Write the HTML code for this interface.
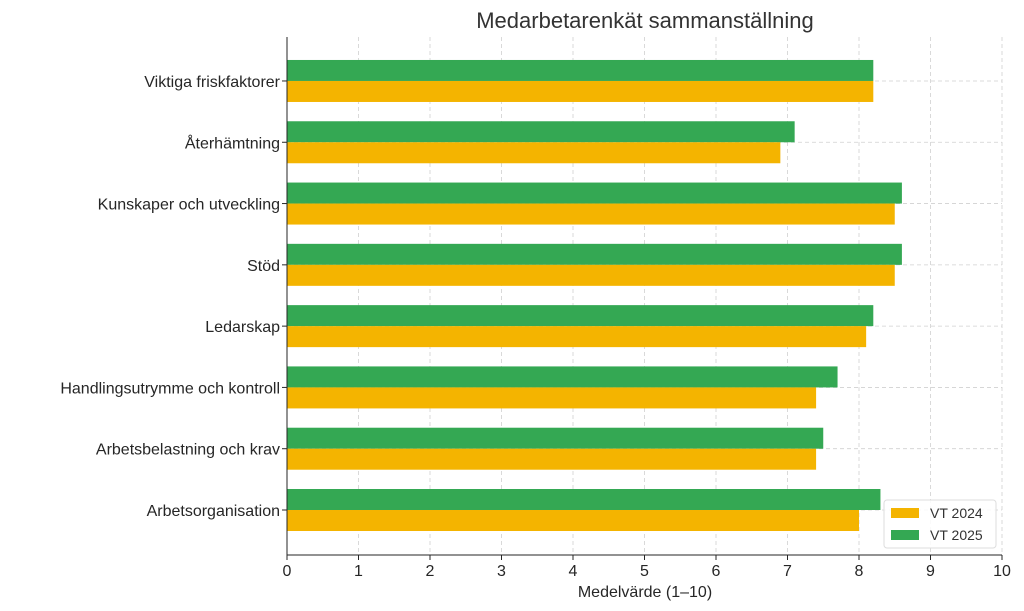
<!DOCTYPE html>
<html><head><meta charset="utf-8"><style>
body{margin:0;background:#fff;}
svg{display:block;font-family:"Liberation Sans","DejaVu Sans",sans-serif;}
</style></head><body>
<svg id="chart" width="1024" height="611"></svg>
<script>
const categories=["Arbetsorganisation","Arbetsbelastning och krav","Handlingsutrymme och kontroll","Ledarskap","Stöd","Kunskaper och utveckling","Återhämtning","Viktiga friskfaktorer"];
const vt2024=[8.0,7.4,7.4,8.1,8.5,8.5,6.9,8.2];
const vt2025=[8.3,7.5,7.7,8.2,8.6,8.6,7.1,8.2];
const xTicks=[0,1,2,3,4,5,6,7,8,9,10];
const NS="http://www.w3.org/2000/svg";
const svg=document.getElementById('chart');
const L=287,R=1002,T=37,B=555;
const x=v=>L+(R-L)*v/10;
const y=i=>510-i*61.29;
const bh=21;
function mk(tag,attrs,parent){const e=document.createElementNS(NS,tag);for(const k in attrs)e.setAttribute(k,attrs[k]);(parent||svg).appendChild(e);return e;}
const grid=mk('g',{});


xTicks.forEach(t=>{mk('line',{x1:x(t),x2:x(t),y1:T,y2:B,stroke:'#d0d0d0','stroke-dasharray':'4,3','stroke-width':0.8},grid);});
categories.forEach((c,i)=>{mk('line',{x1:L,x2:R,y1:y(i),y2:y(i),stroke:'#d0d0d0','stroke-dasharray':'4,3','stroke-width':0.8},grid);});
categories.forEach((c,i)=>{
 const g=mk('rect',{x:L,y:y(i)-bh,width:x(vt2025[i])-L,height:bh,fill:'#34A853'});
 
 
 const yb=mk('rect',{x:L,y:y(i),width:x(vt2024[i])-L,height:bh,fill:'#F4B400'});
 
 
 const t=mk('text',{x:L-7,y:y(i)+6,'text-anchor':'end','font-size':16,fill:'#262626'});
 t.textContent=c;
 
 
 mk('line',{x1:L-5,x2:L,y1:y(i),y2:y(i),stroke:'#262626'});
});
xTicks.forEach(t=>{
 mk('line',{x1:x(t),x2:x(t),y1:B,y2:B+5,stroke:'#262626'});
 const tx=mk('text',{x:x(t),y:B+21,'text-anchor':'middle','font-size':16,fill:'#262626'});
 tx.textContent=t;
 
 
});
mk('line',{x1:L,x2:L,y1:T,y2:B,stroke:'#262626','stroke-width':1});
mk('line',{x1:L,x2:R,y1:B,y2:B,stroke:'#262626','stroke-width':1});
</script>
<script>
(function(){
const svg=document.getElementById('chart');const NS="http://www.w3.org/2000/svg";
function mk(tag,attrs,parent){const e=document.createElementNS(NS,tag);for(const k in attrs)e.setAttribute(k,attrs[k]);(parent||svg).appendChild(e);return e;}
const title=mk('text',{x:645,y:28,'text-anchor':'middle','font-size':22,fill:'#333'});
title.textContent='Medarbetarenkät sammanställning';


const xl=mk('text',{x:645,y:597,'text-anchor':'middle','font-size':16,fill:'#262626'});
xl.textContent='Medelvärde (1–10)';


const lg=mk('g',{});


mk('rect',{x:884,y:500,width:112,height:48,rx:3,fill:'#fff','fill-opacity':0.85,stroke:'#ddd'},lg);
mk('rect',{x:891,y:508,width:28,height:10,fill:'#F4B400'},lg);
mk('rect',{x:891,y:530,width:28,height:10,fill:'#34A853'},lg);
const a=mk('text',{x:930,y:518,'font-size':14,fill:'#333'},lg);a.textContent='VT 2024';


const b=mk('text',{x:930,y:540,'font-size':14,fill:'#333'},lg);b.textContent='VT 2025';


})();
</script>
</body></html>
